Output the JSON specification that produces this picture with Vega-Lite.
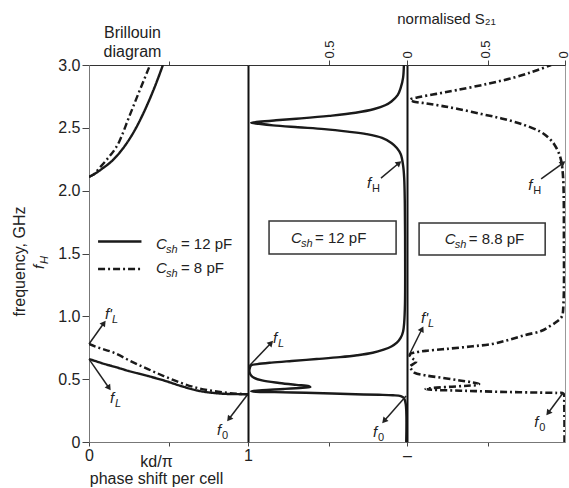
{
  "$schema": "https://vega.github.io/schema/vega-lite/v6.json",
  "padding": {"left": 10, "top": 10, "right": 0, "bottom": 0},
  "spacing": 0,
  "bounds": "flush",
  "config": {
    "view": {"stroke": "#999", "strokeWidth": 1},
    "axis": {"grid": false, "labelFont": "Liberation Sans", "labelFontSize": 16, "labelColor": "#222", "labelFlush": false, "labelOverlap": false, "titleFont": "Liberation Sans", "titleFontSize": 16, "titleFontWeight": "normal", "titleColor": "#222", "tickColor": "#444", "domainColor": "#666"},
    "text": {"font": "Liberation Sans", "fontSize": 15, "color": "#222", "align": "left", "baseline": "alphabetic"}
  },
  "datasets": {
    "bril": [
      {"kd": 0, "f": 0.66, "c": "12", "br": "lo"}, {"kd": 0.05, "f": 0.64, "c": "12", "br": "lo"}, {"kd": 0.1, "f": 0.62, "c": "12", "br": "lo"}, {"kd": 0.157, "f": 0.6, "c": "12", "br": "lo"}, {"kd": 0.25, "f": 0.565, "c": "12", "br": "lo"}, {"kd": 0.371, "f": 0.525, "c": "12", "br": "lo"}, {"kd": 0.47, "f": 0.49, "c": "12", "br": "lo"}, {"kd": 0.58, "f": 0.445, "c": "12", "br": "lo"}, {"kd": 0.68, "f": 0.41, "c": "12", "br": "lo"}, {"kd": 0.786, "f": 0.39, "c": "12", "br": "lo"}, {"kd": 0.88, "f": 0.382, "c": "12", "br": "lo"}, {"kd": 1.0, "f": 0.38, "c": "12", "br": "lo"},
      {"kd": 0, "f": 0.78, "c": "8", "br": "lo"}, {"kd": 0.05, "f": 0.755, "c": "8", "br": "lo"}, {"kd": 0.157, "f": 0.71, "c": "8", "br": "lo"}, {"kd": 0.26, "f": 0.645, "c": "8", "br": "lo"}, {"kd": 0.371, "f": 0.58, "c": "8", "br": "lo"}, {"kd": 0.47, "f": 0.525, "c": "8", "br": "lo"}, {"kd": 0.58, "f": 0.47, "c": "8", "br": "lo"}, {"kd": 0.68, "f": 0.43, "c": "8", "br": "lo"}, {"kd": 0.786, "f": 0.405, "c": "8", "br": "lo"}, {"kd": 0.88, "f": 0.39, "c": "8", "br": "lo"}, {"kd": 1.0, "f": 0.38, "c": "8", "br": "lo"},
      {"kd": 0, "f": 2.11, "c": "12", "br": "up"}, {"kd": 0.044, "f": 2.14, "c": "12", "br": "up"}, {"kd": 0.088, "f": 2.18, "c": "12", "br": "up"}, {"kd": 0.13, "f": 2.22, "c": "12", "br": "up"}, {"kd": 0.17, "f": 2.27, "c": "12", "br": "up"}, {"kd": 0.233, "f": 2.37, "c": "12", "br": "up"}, {"kd": 0.296, "f": 2.5, "c": "12", "br": "up"}, {"kd": 0.358, "f": 2.66, "c": "12", "br": "up"}, {"kd": 0.421, "f": 2.85, "c": "12", "br": "up"}, {"kd": 0.465, "f": 3.0, "c": "12", "br": "up"},
      {"kd": 0, "f": 2.11, "c": "8", "br": "up"}, {"kd": 0.03, "f": 2.13, "c": "8", "br": "up"}, {"kd": 0.065, "f": 2.18, "c": "8", "br": "up"}, {"kd": 0.107, "f": 2.24, "c": "8", "br": "up"}, {"kd": 0.19, "f": 2.39, "c": "8", "br": "up"}, {"kd": 0.25, "f": 2.58, "c": "8", "br": "up"}, {"kd": 0.31, "f": 2.77, "c": "8", "br": "up"}, {"kd": 0.384, "f": 3.0, "c": "8", "br": "up"}
    ],
    "s12": [
      {"f": 3.0, "v": 0.02}, {"f": 2.9, "v": 0.025}, {"f": 2.82, "v": 0.04}, {"f": 2.76, "v": 0.06}, {"f": 2.71, "v": 0.1}, {"f": 2.68, "v": 0.14}, {"f": 2.65, "v": 0.21}, {"f": 2.62, "v": 0.33}, {"f": 2.595, "v": 0.5}, {"f": 2.575, "v": 0.68}, {"f": 2.56, "v": 0.84}, {"f": 2.548, "v": 0.95}, {"f": 2.54, "v": 1.0}, {"f": 2.532, "v": 0.95}, {"f": 2.52, "v": 0.86}, {"f": 2.505, "v": 0.7}, {"f": 2.49, "v": 0.53}, {"f": 2.47, "v": 0.38}, {"f": 2.45, "v": 0.26}, {"f": 2.42, "v": 0.16}, {"f": 2.38, "v": 0.1}, {"f": 2.34, "v": 0.065}, {"f": 2.29, "v": 0.04}, {"f": 2.2, "v": 0.025}, {"f": 2.1, "v": 0.018}, {"f": 1.9, "v": 0.014}, {"f": 1.5, "v": 0.012}, {"f": 1.1, "v": 0.013}, {"f": 0.95, "v": 0.018}, {"f": 0.88, "v": 0.025}, {"f": 0.83, "v": 0.04}, {"f": 0.79, "v": 0.065}, {"f": 0.76, "v": 0.1}, {"f": 0.735, "v": 0.15}, {"f": 0.71, "v": 0.22}, {"f": 0.69, "v": 0.32}, {"f": 0.675, "v": 0.43}, {"f": 0.66, "v": 0.58}, {"f": 0.645, "v": 0.74}, {"f": 0.632, "v": 0.87}, {"f": 0.62, "v": 0.96}, {"f": 0.61, "v": 1.0}, {"f": 0.58, "v": 1.01}, {"f": 0.555, "v": 1.01}, {"f": 0.53, "v": 1.0}, {"f": 0.51, "v": 0.98}, {"f": 0.49, "v": 0.93}, {"f": 0.47, "v": 0.82}, {"f": 0.455, "v": 0.71}, {"f": 0.445, "v": 0.63}, {"f": 0.438, "v": 0.62}, {"f": 0.432, "v": 0.67}, {"f": 0.422, "v": 0.79}, {"f": 0.412, "v": 0.93}, {"f": 0.404, "v": 1.0}, {"f": 0.4, "v": 0.97}, {"f": 0.397, "v": 0.85}, {"f": 0.392, "v": 0.65}, {"f": 0.386, "v": 0.48}, {"f": 0.38, "v": 0.33}, {"f": 0.376, "v": 0.18}, {"f": 0.372, "v": 0.09}, {"f": 0.365, "v": 0.04}, {"f": 0.35, "v": 0.02}, {"f": 0.3, "v": 0.008}, {"f": 0.0, "v": 0.005}
    ],
    "s88": [
      {"f": 3.0, "v": 0.09}, {"f": 2.95, "v": 0.2}, {"f": 2.9, "v": 0.33}, {"f": 2.85, "v": 0.5}, {"f": 2.8, "v": 0.7}, {"f": 2.77, "v": 0.83}, {"f": 2.745, "v": 0.94}, {"f": 2.725, "v": 1.0}, {"f": 2.71, "v": 0.98}, {"f": 2.695, "v": 0.9}, {"f": 2.675, "v": 0.8}, {"f": 2.65, "v": 0.69}, {"f": 2.61, "v": 0.54}, {"f": 2.575, "v": 0.41}, {"f": 2.53, "v": 0.28}, {"f": 2.47, "v": 0.16}, {"f": 2.42, "v": 0.105}, {"f": 2.37, "v": 0.07}, {"f": 2.3, "v": 0.04}, {"f": 2.24, "v": 0.025}, {"f": 2.1, "v": 0.012}, {"f": 1.6, "v": 0.007}, {"f": 1.1, "v": 0.01}, {"f": 1.0, "v": 0.02}, {"f": 0.96, "v": 0.05}, {"f": 0.92, "v": 0.1}, {"f": 0.883, "v": 0.155}, {"f": 0.85, "v": 0.26}, {"f": 0.81, "v": 0.37}, {"f": 0.78, "v": 0.47}, {"f": 0.76, "v": 0.61}, {"f": 0.74, "v": 0.77}, {"f": 0.725, "v": 0.9}, {"f": 0.712, "v": 0.97}, {"f": 0.7, "v": 1.0}, {"f": 0.68, "v": 1.0}, {"f": 0.66, "v": 0.98}, {"f": 0.64, "v": 0.96}, {"f": 0.62, "v": 0.98}, {"f": 0.6, "v": 1.0}, {"f": 0.575, "v": 0.99}, {"f": 0.55, "v": 0.97}, {"f": 0.53, "v": 0.9}, {"f": 0.51, "v": 0.79}, {"f": 0.49, "v": 0.68}, {"f": 0.475, "v": 0.6}, {"f": 0.462, "v": 0.555}, {"f": 0.455, "v": 0.56}, {"f": 0.448, "v": 0.63}, {"f": 0.44, "v": 0.73}, {"f": 0.43, "v": 0.85}, {"f": 0.422, "v": 0.9}, {"f": 0.416, "v": 0.86}, {"f": 0.41, "v": 0.72}, {"f": 0.405, "v": 0.58}, {"f": 0.398, "v": 0.38}, {"f": 0.393, "v": 0.16}, {"f": 0.39, "v": 0.05}, {"f": 0.385, "v": 0.01}, {"f": 0.3, "v": 0.005}, {"f": 0.0, "v": 0.003}
    ],
    "legend": [
      {"c": "12", "x1": 0.057, "x2": 0.33, "ly": 1.595, "tx": 0.421, "ty": 1.536, "base": "C", "sub": "sh", "rest": "= 12 pF"},
      {"c": "8", "x1": 0.057, "x2": 0.33, "ly": 1.377, "tx": 0.421, "ty": 1.345, "base": "C", "sub": "sh", "rest": "= 8 pF"}
    ],
    "boxes": [
      {"p": 2, "x1": 0.885, "x2": 0.07, "y1": 1.758, "y2": 1.496, "tx": 0.744, "ty": 1.584, "base": "C", "sub": "sh", "rest": "= 12 pF"},
      {"p": 3, "x1": 0.942, "x2": 0.128, "y1": 1.742, "y2": 1.488, "tx": 0.776, "ty": 1.576, "base": "C", "sub": "sh", "rest": "=  8.8 pF"}
    ],
    "arrows": [
      {"p": 1, "x": 0, "y": 0.78, "x2": 0.094, "y2": 0.947, "ang": 35.5},
      {"p": 1, "x": 0, "y": 0.66, "x2": 0.126, "y2": 0.43, "ang": 145.4},
      {"p": 1, "x": 1.0, "y": 0.382, "x2": 0.88, "y2": 0.183, "ang": 217.2},
      {"p": 2, "x": 1.013, "y": 0.605, "x2": 0.872, "y2": 0.788, "ang": 43.7},
      {"p": 2, "x": 0.006, "y": 0.366, "x2": 0.147, "y2": 0.167, "ang": 221.3},
      {"p": 2, "x": 0.167, "y": 2.1, "x2": 0.051, "y2": 2.22, "ang": 50.2},
      {"p": 3, "x": 0.154, "y": 2.093, "x2": 0.013, "y2": 2.22, "ang": 54},
      {"p": 3, "x": 1.0, "y": 0.708, "x2": 0.923, "y2": 0.899, "ang": 26.6},
      {"p": 3, "x": 0.013, "y": 0.39, "x2": 0.109, "y2": 0.231, "ang": 216.9}
    ],
    "labels": [
      {"p": 1, "x": 0.1, "y": 0.979, "base": "f'", "sub": "L"},
      {"p": 1, "x": 0.132, "y": 0.31, "base": "f", "sub": "L"},
      {"p": 1, "x": 0.805, "y": 0.056, "base": "f", "sub": "0"},
      {"p": 2, "x": 0.859, "y": 0.788, "base": "f", "sub": "L"},
      {"p": 2, "x": 0.218, "y": 0.04, "base": "f", "sub": "0"},
      {"p": 2, "x": 0.256, "y": 2.02, "base": "f", "sub": "H"},
      {"p": 3, "x": 0.237, "y": 2.005, "base": "f", "sub": "H"},
      {"p": 3, "x": 0.929, "y": 0.947, "base": "f'", "sub": "L"},
      {"p": 3, "x": 0.199, "y": 0.119, "base": "f", "sub": "0"}
    ],
    "side": [
      {"x": -0.283, "y": 1.377, "base": "f", "sub": "H"}
    ]
  },
  "hconcat": [
    {
      "width": 159,
      "height": 377,
      "resolve": {"axis": {"x": "independent", "y": "independent"}},
      "layer": [
        {
          "data": {"name": "bril"},
          "mark": {"type": "line", "interpolate": "monotone", "color": "#1a1a1a", "strokeWidth": 2.4, "clip": true},
          "encoding": {
            "x": {"field": "kd", "type": "quantitative", "scale": {"domain": [0, 1], "nice": false, "zero": false},
              "axis": {"orient": "bottom", "values": [0, 0.5, 1], "labelExpr": "datum.value==0.5?'':format(datum.value,'d')", "title": ["kd/π", "phase shift per cell"], "titleX": 67, "titleY": 11, "titleBaseline": "top", "titleLineHeight": 17, "tickSize": 4, "labelPadding": 1, "domainColor": "#777"}},
            "y": {"field": "f", "type": "quantitative", "scale": {"domain": [0, 3], "nice": false},
              "axis": {"orient": "left", "values": [0, 0.5, 1, 1.5, 2, 2.5, 3], "labelExpr": "datum.value==0?'0':format(datum.value,'.1f')", "title": "frequency, GHz", "titleX": -70, "titleY": 196, "titleBaseline": "middle", "titleAngle": 270, "tickSize": 7, "labelPadding": 2, "domainColor": "#777"}},
            "detail": {"field": "br"},
            "strokeDash": {"field": "c", "type": "nominal", "scale": {"domain": ["12", "8"], "range": [[1, 0], [7, 3, 2, 3]]}, "legend": null}
          }
        },
        {
          "data": {"name": "legend"},
          "mark": {"type": "rule", "color": "#1a1a1a", "strokeWidth": 2.4},
          "encoding": {
            "x": {"field": "x1", "type": "quantitative",
              "axis": {"orient": "top", "values": [0.5], "labels": false, "tickSize": 4, "title": ["Brillouin", "diagram"], "titleX": 43, "titleY": -28, "titleBaseline": "alphabetic", "titleLineHeight": 19, "domainColor": "#333"}},
            "x2": {"field": "x2"},
            "y": {"field": "ly", "type": "quantitative", "axis": null},
            "strokeDash": {"field": "c", "type": "nominal", "legend": null}
          }
        },
        {
          "data": {"name": "legend"},
          "mark": {"type": "text", "fontStyle": "italic"},
          "encoding": {"x": {"field": "tx", "type": "quantitative", "axis": null}, "y": {"field": "ty", "type": "quantitative", "axis": null}, "text": {"field": "base"}}
        },
        {
          "data": {"name": "legend"},
          "mark": {"type": "text", "fontStyle": "italic", "fontSize": 11, "dx": 10, "dy": 4},
          "encoding": {"x": {"field": "tx", "type": "quantitative", "axis": null}, "y": {"field": "ty", "type": "quantitative", "axis": null}, "text": {"field": "sub"}}
        },
        {
          "data": {"name": "legend"},
          "mark": {"type": "text", "dx": 25},
          "encoding": {"x": {"field": "tx", "type": "quantitative", "axis": null}, "y": {"field": "ty", "type": "quantitative", "axis": null}, "text": {"field": "rest"}}
        },
        {
          "data": {"name": "arrows"},
          "transform": [{"filter": "datum.p==1"}],
          "mark": {"type": "rule", "color": "#222", "strokeWidth": 1.5},
          "encoding": {"x": {"field": "x", "type": "quantitative", "axis": null}, "y": {"field": "y", "type": "quantitative", "axis": null}, "x2": {"field": "x2"}, "y2": {"field": "y2"}}
        },
        {
          "data": {"name": "arrows"},
          "transform": [{"filter": "datum.p==1"}],
          "mark": {"type": "point", "shape": "triangle-up", "filled": true, "size": 45, "color": "#222", "opacity": 1},
          "encoding": {"x": {"field": "x2", "type": "quantitative", "axis": null}, "y": {"field": "y2", "type": "quantitative", "axis": null}, "angle": {"field": "ang", "type": "quantitative", "scale": null}}
        },
        {
          "data": {"name": "labels"},
          "transform": [{"filter": "datum.p==1"}],
          "mark": {"type": "text", "fontStyle": "italic"},
          "encoding": {"x": {"field": "x", "type": "quantitative", "axis": null}, "y": {"field": "y", "type": "quantitative", "axis": null}, "text": {"field": "base"}}
        },
        {
          "data": {"name": "labels"},
          "transform": [{"filter": "datum.p==1 && datum.sub=='L'"}],
          "mark": {"type": "text", "fontStyle": "italic", "fontSize": 11, "dx": {"expr": "length(datum.base)>1 ? 7 : 5"}, "dy": 4},
          "encoding": {"x": {"field": "x", "type": "quantitative", "axis": null}, "y": {"field": "y", "type": "quantitative", "axis": null}, "text": {"field": "sub"}}
        },
        {
          "data": {"name": "labels"},
          "transform": [{"filter": "datum.p==1 && datum.sub!='L'"}],
          "mark": {"type": "text", "fontSize": 11, "dx": 5, "dy": 4},
          "encoding": {"x": {"field": "x", "type": "quantitative", "axis": null}, "y": {"field": "y", "type": "quantitative", "axis": null}, "text": {"field": "sub"}}
        },
        {
          "data": {"name": "side"},
          "mark": {"type": "text", "fontStyle": "italic", "angle": 270},
          "encoding": {"x": {"field": "x", "type": "quantitative", "axis": null}, "y": {"field": "y", "type": "quantitative", "axis": null}, "text": {"field": "base"}}
        },
        {
          "data": {"name": "side"},
          "mark": {"type": "text", "fontStyle": "italic", "fontSize": 11, "angle": 270, "dx": 5, "dy": 4},
          "encoding": {"x": {"field": "x", "type": "quantitative", "axis": null}, "y": {"field": "y", "type": "quantitative", "axis": null}, "text": {"field": "sub"}}
        }
      ]
    },
    {
      "width": 159,
      "height": 377,
      "resolve": {"axis": {"x": "independent", "y": "independent"}},
      "layer": [
        {
          "data": {"name": "s12"},
          "mark": {"type": "line", "interpolate": "catmull-rom", "color": "#1a1a1a", "strokeWidth": 2.4, "clip": true},
          "encoding": {
            "x": {"field": "v", "type": "quantitative", "scale": {"domain": [0, 1.02], "reverse": true, "nice": false, "zero": false},
              "axis": {"orient": "top", "values": [0, 0.5], "labelExpr": "datum.value==0?'0':'0.5'", "labelAngle": 270, "labelFontSize": 13, "labelPadding": 2, "tickSize": 5, "title": null, "domainColor": "#333"}},
            "y": {"field": "f", "type": "quantitative", "scale": {"domain": [0, 3], "nice": false},
              "axis": {"orient": "left", "labels": false, "ticks": false, "title": null, "domainColor": "#111", "domainWidth": 2}},
            "order": {"field": "f", "type": "quantitative"}
          }
        },
        {
          "data": {"name": "boxes"},
          "transform": [{"filter": "datum.p==2"}],
          "mark": {"type": "rect", "fill": "white", "stroke": "#333", "strokeWidth": 1.5},
          "encoding": {
            "x": {"field": "x1", "type": "quantitative",
              "axis": {"orient": "bottom", "values": [0, 0.5], "labelExpr": "datum.value==0?'–':''", "title": null, "tickSize": 4, "labelPadding": 1, "domainColor": "#777"}},
            "x2": {"field": "x2"},
            "y": {"field": "y1", "type": "quantitative", "axis": null},
            "y2": {"field": "y2"}
          }
        },
        {
          "data": {"name": "boxes"},
          "transform": [{"filter": "datum.p==2"}],
          "mark": {"type": "text", "fontStyle": "italic"},
          "encoding": {"x": {"field": "tx", "type": "quantitative", "axis": null}, "y": {"field": "ty", "type": "quantitative", "axis": null}, "text": {"field": "base"}}
        },
        {
          "data": {"name": "boxes"},
          "transform": [{"filter": "datum.p==2"}],
          "mark": {"type": "text", "fontStyle": "italic", "fontSize": 11, "dx": 10, "dy": 4},
          "encoding": {"x": {"field": "tx", "type": "quantitative", "axis": null}, "y": {"field": "ty", "type": "quantitative", "axis": null}, "text": {"field": "sub"}}
        },
        {
          "data": {"name": "boxes"},
          "transform": [{"filter": "datum.p==2"}],
          "mark": {"type": "text", "dx": 24},
          "encoding": {"x": {"field": "tx", "type": "quantitative", "axis": null}, "y": {"field": "ty", "type": "quantitative", "axis": null}, "text": {"field": "rest"}}
        },
        {
          "data": {"name": "arrows"},
          "transform": [{"filter": "datum.p==2"}],
          "mark": {"type": "rule", "color": "#222", "strokeWidth": 1.5},
          "encoding": {"x": {"field": "x", "type": "quantitative", "axis": null}, "y": {"field": "y", "type": "quantitative", "axis": null}, "x2": {"field": "x2"}, "y2": {"field": "y2"}}
        },
        {
          "data": {"name": "arrows"},
          "transform": [{"filter": "datum.p==2"}],
          "mark": {"type": "point", "shape": "triangle-up", "filled": true, "size": 45, "color": "#222", "opacity": 1},
          "encoding": {"x": {"field": "x2", "type": "quantitative", "axis": null}, "y": {"field": "y2", "type": "quantitative", "axis": null}, "angle": {"field": "ang", "type": "quantitative", "scale": null}}
        },
        {
          "data": {"name": "labels"},
          "transform": [{"filter": "datum.p==2"}],
          "mark": {"type": "text", "fontStyle": "italic"},
          "encoding": {"x": {"field": "x", "type": "quantitative", "axis": null}, "y": {"field": "y", "type": "quantitative", "axis": null}, "text": {"field": "base"}}
        },
        {
          "data": {"name": "labels"},
          "transform": [{"filter": "datum.p==2 && datum.sub=='L'"}],
          "mark": {"type": "text", "fontStyle": "italic", "fontSize": 11, "dx": 5, "dy": 4},
          "encoding": {"x": {"field": "x", "type": "quantitative", "axis": null}, "y": {"field": "y", "type": "quantitative", "axis": null}, "text": {"field": "sub"}}
        },
        {
          "data": {"name": "labels"},
          "transform": [{"filter": "datum.p==2 && datum.sub!='L'"}],
          "mark": {"type": "text", "fontSize": 11, "dx": 5, "dy": 4},
          "encoding": {"x": {"field": "x", "type": "quantitative", "axis": null}, "y": {"field": "y", "type": "quantitative", "axis": null}, "text": {"field": "sub"}}
        }
      ]
    },
    {
      "width": 158,
      "height": 377,
      "resolve": {"axis": {"x": "independent", "y": "independent"}},
      "layer": [
        {
          "data": {"name": "s88"},
          "mark": {"type": "line", "interpolate": "catmull-rom", "color": "#1a1a1a", "strokeWidth": 2.6, "strokeDash": [7, 3, 2, 3], "clip": true},
          "encoding": {
            "x": {"field": "v", "type": "quantitative", "scale": {"domain": [0, 1.02], "reverse": true, "nice": false, "zero": false},
              "axis": {"orient": "top", "values": [0, 0.5], "labelExpr": "datum.value==0?'0':'0.5'", "labelAngle": 270, "labelFontSize": 13, "labelPadding": 2, "labelOffset": -2, "tickSize": 5, "title": "normalised S₂₁", "titleFontSize": 15, "titleX": 39, "titleY": -42, "titleBaseline": "alphabetic", "domainColor": "#333"}},
            "y": {"field": "f", "type": "quantitative", "scale": {"domain": [0, 3], "nice": false},
              "axis": {"orient": "left", "labels": false, "ticks": false, "title": null, "domainColor": "#111", "domainWidth": 2}},
            "order": {"field": "f", "type": "quantitative"}
          }
        },
        {
          "data": {"name": "boxes"},
          "transform": [{"filter": "datum.p==3"}],
          "mark": {"type": "rect", "fill": "white", "stroke": "#333", "strokeWidth": 1.5},
          "encoding": {
            "x": {"field": "x1", "type": "quantitative",
              "axis": {"orient": "bottom", "values": [0.5], "labels": false, "title": null, "tickSize": 4, "domainColor": "#777"}},
            "x2": {"field": "x2"},
            "y": {"field": "y1", "type": "quantitative", "axis": null},
            "y2": {"field": "y2"}
          }
        },
        {
          "data": {"name": "boxes"},
          "transform": [{"filter": "datum.p==3"}],
          "mark": {"type": "text", "fontStyle": "italic"},
          "encoding": {"x": {"field": "tx", "type": "quantitative", "axis": null}, "y": {"field": "ty", "type": "quantitative", "axis": null}, "text": {"field": "base"}}
        },
        {
          "data": {"name": "boxes"},
          "transform": [{"filter": "datum.p==3"}],
          "mark": {"type": "text", "fontStyle": "italic", "fontSize": 11, "dx": 10, "dy": 4},
          "encoding": {"x": {"field": "tx", "type": "quantitative", "axis": null}, "y": {"field": "ty", "type": "quantitative", "axis": null}, "text": {"field": "sub"}}
        },
        {
          "data": {"name": "boxes"},
          "transform": [{"filter": "datum.p==3"}],
          "mark": {"type": "text", "dx": 24},
          "encoding": {"x": {"field": "tx", "type": "quantitative", "axis": null}, "y": {"field": "ty", "type": "quantitative", "axis": null}, "text": {"field": "rest"}}
        },
        {
          "data": {"name": "arrows"},
          "transform": [{"filter": "datum.p==3"}],
          "mark": {"type": "rule", "color": "#222", "strokeWidth": 1.5},
          "encoding": {"x": {"field": "x", "type": "quantitative", "axis": null}, "y": {"field": "y", "type": "quantitative", "axis": null}, "x2": {"field": "x2"}, "y2": {"field": "y2"}}
        },
        {
          "data": {"name": "arrows"},
          "transform": [{"filter": "datum.p==3"}],
          "mark": {"type": "point", "shape": "triangle-up", "filled": true, "size": 45, "color": "#222", "opacity": 1},
          "encoding": {"x": {"field": "x2", "type": "quantitative", "axis": null}, "y": {"field": "y2", "type": "quantitative", "axis": null}, "angle": {"field": "ang", "type": "quantitative", "scale": null}}
        },
        {
          "data": {"name": "labels"},
          "transform": [{"filter": "datum.p==3"}],
          "mark": {"type": "text", "fontStyle": "italic"},
          "encoding": {"x": {"field": "x", "type": "quantitative", "axis": null}, "y": {"field": "y", "type": "quantitative", "axis": null}, "text": {"field": "base"}}
        },
        {
          "data": {"name": "labels"},
          "transform": [{"filter": "datum.p==3 && datum.sub=='L'"}],
          "mark": {"type": "text", "fontStyle": "italic", "fontSize": 11, "dx": {"expr": "length(datum.base)>1 ? 7 : 5"}, "dy": 4},
          "encoding": {"x": {"field": "x", "type": "quantitative", "axis": null}, "y": {"field": "y", "type": "quantitative", "axis": null}, "text": {"field": "sub"}}
        },
        {
          "data": {"name": "labels"},
          "transform": [{"filter": "datum.p==3 && datum.sub!='L'"}],
          "mark": {"type": "text", "fontSize": 11, "dx": 5, "dy": 4},
          "encoding": {"x": {"field": "x", "type": "quantitative", "axis": null}, "y": {"field": "y", "type": "quantitative", "axis": null}, "text": {"field": "sub"}}
        }
      ]
    }
  ]
}
